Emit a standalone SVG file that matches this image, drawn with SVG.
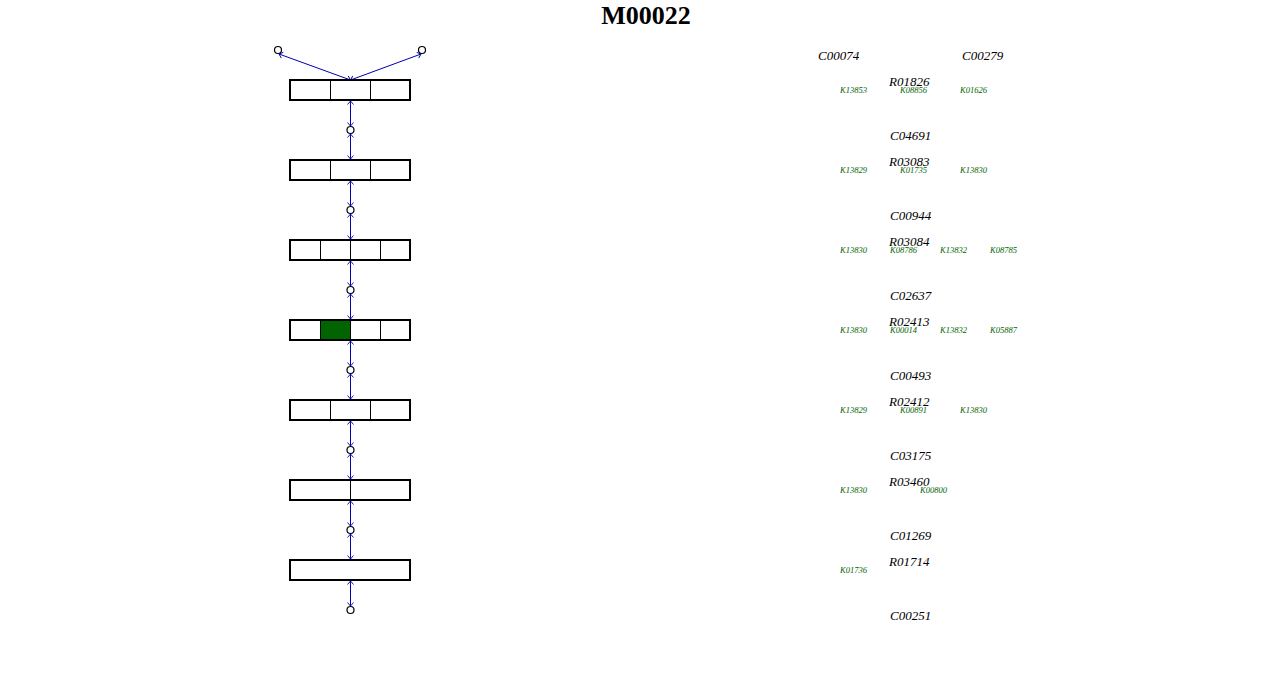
<svg xmlns="http://www.w3.org/2000/svg" width="1280" height="680" viewBox="0 0 1280 680">
<style>
.title{font-family:"Liberation Serif",serif;font-weight:bold;font-size:26px;fill:#000}
.box{fill:#fff;stroke:#000;stroke-width:2}
.div{stroke:#000;stroke-width:1}
.hit{fill:#006400;stroke:none}
.cpd{fill:#fff;stroke:#000;stroke-width:1.2}
.edge{stroke:#0000b0;stroke-width:1;fill:none;marker-start:url(#arrS);marker-end:url(#arrE)}
.lab{font-family:"Liberation Serif",serif;font-style:italic;font-size:13px;fill:#000}
.ko{font-family:"Liberation Serif",serif;font-style:italic;font-size:8.5px;fill:#006400}
</style>
<defs>
<marker id="arrE" viewBox="-6 -5 8 10" markerWidth="8" markerHeight="10" refX="0" refY="0" orient="auto" markerUnits="userSpaceOnUse">
<path d="M-3.5,-3 L0,0 L-3.5,3" fill="none" stroke="#0000b0" stroke-width="0.9"/>
</marker>
<marker id="arrS" viewBox="-6 -5 8 10" markerWidth="8" markerHeight="10" refX="0" refY="0" orient="auto-start-reverse" markerUnits="userSpaceOnUse">
<path d="M-3.5,-3 L0,0 L-3.5,3" fill="none" stroke="#0000b0" stroke-width="0.9"/>
</marker>
</defs>
<rect width="1280" height="680" fill="#fff"/>
<text class="title" x="646" y="24" text-anchor="middle">M00022</text>

<g id="connectors">
<path class="edge" d="M279,54 L350.5,80"/>
<path class="edge" d="M421,54 L350.5,80"/>
<path class="edge" d="M350.5,101 L350.5,126"/>
<path class="edge" d="M350.5,134 L350.5,159"/>
<path class="edge" d="M350.5,181 L350.5,206"/>
<path class="edge" d="M350.5,214 L350.5,239"/>
<path class="edge" d="M350.5,261 L350.5,286"/>
<path class="edge" d="M350.5,294 L350.5,319"/>
<path class="edge" d="M350.5,341 L350.5,366"/>
<path class="edge" d="M350.5,374 L350.5,399"/>
<path class="edge" d="M350.5,421 L350.5,446"/>
<path class="edge" d="M350.5,454 L350.5,479"/>
<path class="edge" d="M350.5,501 L350.5,526"/>
<path class="edge" d="M350.5,534 L350.5,559"/>
<path class="edge" d="M350.5,581 L350.5,606"/>
</g>

<g id="compounds">
<circle id="C00074" class="cpd" cx="278" cy="50" r="3.5"/>
<circle id="C00279" class="cpd" cx="422" cy="50" r="3.5"/>
<circle id="C04691" class="cpd" cx="350.5" cy="130" r="3.5"/>
<circle id="C00944" class="cpd" cx="350.5" cy="210" r="3.5"/>
<circle id="C02637" class="cpd" cx="350.5" cy="290" r="3.5"/>
<circle id="C00493" class="cpd" cx="350.5" cy="370" r="3.5"/>
<circle id="C03175" class="cpd" cx="350.5" cy="450" r="3.5"/>
<circle id="C01269" class="cpd" cx="350.5" cy="530" r="3.5"/>
<circle id="C00251" class="cpd" cx="350.5" cy="610" r="3.5"/>
</g>

<g id="R01826">
<rect class="box" x="290" y="80" width="120" height="20"/>
<line class="div" x1="330.5" y1="80" x2="330.5" y2="100"/>
<line class="div" x1="370.5" y1="80" x2="370.5" y2="100"/>
</g>
<g id="R03083">
<rect class="box" x="290" y="160" width="120" height="20"/>
<line class="div" x1="330.5" y1="160" x2="330.5" y2="180"/>
<line class="div" x1="370.5" y1="160" x2="370.5" y2="180"/>
</g>
<g id="R03084">
<rect class="box" x="290" y="240" width="120" height="20"/>
<line class="div" x1="320.5" y1="240" x2="320.5" y2="260"/>
<line class="div" x1="350.5" y1="240" x2="350.5" y2="260"/>
<line class="div" x1="380.5" y1="240" x2="380.5" y2="260"/>
</g>
<g id="R02413">
<rect class="box" x="290" y="320" width="120" height="20"/>
<rect class="hit" x="320" y="320" width="30" height="20"/>
<rect x="290" y="320" width="120" height="20" fill="none" stroke="#000" stroke-width="2"/>
<line class="div" x1="320.5" y1="320" x2="320.5" y2="340"/>
<line class="div" x1="350.5" y1="320" x2="350.5" y2="340"/>
<line class="div" x1="380.5" y1="320" x2="380.5" y2="340"/>
</g>
<g id="R02412">
<rect class="box" x="290" y="400" width="120" height="20"/>
<line class="div" x1="330.5" y1="400" x2="330.5" y2="420"/>
<line class="div" x1="370.5" y1="400" x2="370.5" y2="420"/>
</g>
<g id="R03460">
<rect class="box" x="290" y="480" width="120" height="20"/>
<line class="div" x1="350.5" y1="480" x2="350.5" y2="500"/>
</g>
<g id="R01714">
<rect class="box" x="290" y="560" width="120" height="20"/>
</g>

<g id="labels">
<text class="lab" x="818" y="60">C00074</text>
<text class="lab" x="962" y="60">C00279</text>
<text class="lab" x="889" y="86">R01826</text>
<text class="ko" x="840" y="93">K13853</text>
<text class="ko" x="900" y="93">K08856</text>
<text class="ko" x="960" y="93">K01626</text>

<text class="lab" x="890" y="140">C04691</text>
<text class="lab" x="889" y="166">R03083</text>
<text class="ko" x="840" y="173">K13829</text>
<text class="ko" x="900" y="173">K01735</text>
<text class="ko" x="960" y="173">K13830</text>

<text class="lab" x="890" y="220">C00944</text>
<text class="lab" x="889" y="246">R03084</text>
<text class="ko" x="840" y="253">K13830</text>
<text class="ko" x="890" y="253">K08786</text>
<text class="ko" x="940" y="253">K13832</text>
<text class="ko" x="990" y="253">K08785</text>

<text class="lab" x="890" y="300">C02637</text>
<text class="lab" x="889" y="326">R02413</text>
<text class="ko" x="840" y="333">K13830</text>
<text class="ko" x="890" y="333">K00014</text>
<text class="ko" x="940" y="333">K13832</text>
<text class="ko" x="990" y="333">K05887</text>

<text class="lab" x="890" y="380">C00493</text>
<text class="lab" x="889" y="406">R02412</text>
<text class="ko" x="840" y="413">K13829</text>
<text class="ko" x="900" y="413">K00891</text>
<text class="ko" x="960" y="413">K13830</text>

<text class="lab" x="890" y="460">C03175</text>
<text class="lab" x="889" y="486">R03460</text>
<text class="ko" x="840" y="493">K13830</text>
<text class="ko" x="920" y="493">K00800</text>

<text class="lab" x="890" y="540">C01269</text>
<text class="lab" x="889" y="566">R01714</text>
<text class="ko" x="840" y="573">K01736</text>

<text class="lab" x="890" y="620">C00251</text>
</g>
</svg>
